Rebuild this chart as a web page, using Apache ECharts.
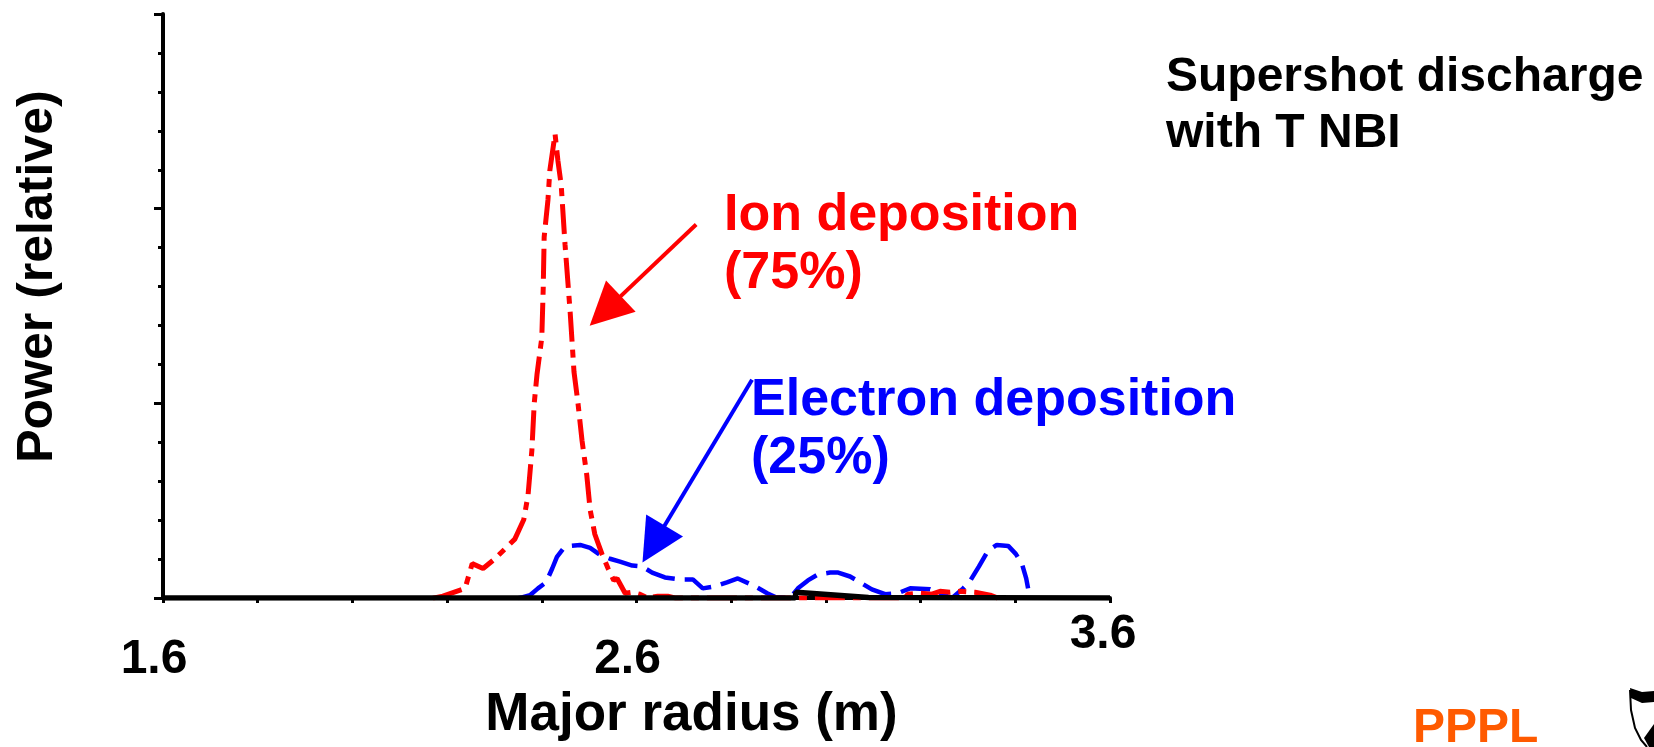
<!DOCTYPE html>
<html>
<head>
<meta charset="utf-8">
<script src="https://cdn.jsdelivr.net/npm/echarts@6/dist/echarts.min.js"></script>
<style>
html,body{margin:0;padding:0;background:#fff;}
#chart{width:1654px;height:747px;}
</style>
</head>
<body>
<div id="chart"></div>
<script>
// ---- data ----
const xTickLabels = ['1.6', '2.6', '3.6'];

const ionX = [2.17, 2.191, 2.238, 2.253, 2.276, 2.301, 2.343, 2.362, 2.371, 2.379, 2.384, 2.390, 2.400, 2.403, 2.405, 2.413, 2.417, 2.428,
  2.434, 2.441, 2.449, 2.460, 2.468, 2.476, 2.485, 2.495, 2.502, 2.512, 2.527, 2.540, 2.552, 2.559, 2.576, 2.590, 2.607, 2.624, 2.645, 2.666, 2.683,
  3.167, 3.173, 3.199, 3.224, 3.241, 3.262, 3.283, 3.315, 3.347, 3.363];
const ionY = [0, 0.01, 0.05, 0.177, 0.152, 0.202, 0.303, 0.404, 0.530, 0.758, 1.0, 1.152, 1.338, 1.591, 1.854, 2.045, 2.197, 2.384,
  2.247, 2.121, 1.818, 1.465, 1.162, 1.010, 0.808, 0.631, 0.455, 0.328, 0.227, 0.152, 0.091, 0.101, 0.025, 0.03, 0.02, 0, 0.01, 0.01, 0,
  0, 0.02, 0.025, 0.02, 0.035, 0.03, 0.035, 0.03, 0.015, 0];

const elecX = [2.35, 2.360, 2.375, 2.392, 2.409, 2.422, 2.432, 2.445, 2.460, 2.481, 2.502, 2.523, 2.544, 2.565, 2.591, 2.612, 2.633, 2.660,
  2.692, 2.719, 2.740, 2.766, 2.791, 2.814, 2.850, 2.876, 2.893, 2.924, 2.941, 2.962, 2.983, 3.009, 3.026, 3.051, 3.072, 3.097,
  3.125, 3.152, 3.178, 3.220, 3.245, 3.266, 3.290, 3.304, 3.323, 3.342, 3.361, 3.385, 3.401, 3.414, 3.423, 3.427];
const elecY = [0, 0.005, 0.015, 0.05, 0.081, 0.152, 0.212, 0.253, 0.268, 0.273, 0.258, 0.222, 0.202, 0.187, 0.167, 0.162, 0.131, 0.106,
  0.096, 0.096, 0.05, 0.061, 0.081, 0.101, 0.061, 0.025, 0.005, 0, 0.05, 0.091, 0.121, 0.131, 0.131, 0.111, 0.081, 0.045,
  0.02, 0.025, 0.05, 0.045, 0.02, 0, 0.05, 0.086, 0.162, 0.242, 0.273, 0.268, 0.227, 0.177, 0.101, 0.05];

const baseX = [1.6, 2.935, 2.937, 3.09, 3.6];
const baseY = [0, 0, 0.03, 0.003, 0];

// annotation arrows: [tailX, tailY, headX, headY] in data units
const ionArrow = [2.726, 1.919, 2.534, 1.475];
const elecArrow = [2.844, 1.121, 2.636, 0.278];

const zip = (xs, ys) => xs.map((x, i) => [x, ys[i]]);

const FONT = '"Liberation Sans", Arial, sans-serif';

const chart = echarts.init(document.getElementById('chart'), null, {renderer: 'canvas'});
chart.setOption({
  animation: false,
  backgroundColor: '#ffffff',
  grid: {left: 163, right: 544, top: 14, bottom: 137, containLabel: false},
  xAxis: {
    type: 'value', min: 1.6, max: 3.6, interval: 0.2,
    name: 'Major radius (m)', nameLocation: 'middle', nameGap: 89,
    nameTextStyle: {fontFamily: FONT, fontWeight: 'bold', fontSize: 53, color: '#000', padding: [0, 0, 0, 110]},
    axisLine: {show: true, onZero: false, lineStyle: {color: '#000', width: 4}},
    axisTick: {show: true, length: 5, lineStyle: {color: '#000', width: 3}},
    splitLine: {show: false},
    axisLabel: {
      show: true, margin: 13,
      formatter: function (v) {
        const s = (Math.round(v * 10) / 10).toFixed(1);
        if (xTickLabels.indexOf(s) < 0) return '';
        return s === '3.6' ? '{hi|' + s + '}' : '{lo|' + s + '}';
      },
      rich: {
        hi: {fontFamily: FONT, fontWeight: 'bold', fontSize: 48, color: '#000', padding: [0, 14, 0, 0]},
        lo: {fontFamily: FONT, fontWeight: 'bold', fontSize: 48, color: '#000', padding: [25, 18, 0, 0]}
      }
    }
  },
  yAxis: {
    type: 'value', min: 0, max: 3, interval: 1,
    name: 'Power (relative)', nameLocation: 'middle', nameRotate: 90, nameGap: 100,
    nameTextStyle: {fontFamily: FONT, fontWeight: 'bold', fontSize: 50, color: '#000', padding: [0, 0, 0, 59]},
    axisLine: {show: true, lineStyle: {color: '#000', width: 4}},
    axisTick: {show: true, length: 9, lineStyle: {color: '#000', width: 3}},
    minorTick: {show: true, splitNumber: 5, length: 5, lineStyle: {color: '#000', width: 3}},
    axisLabel: {show: false},
    splitLine: {show: false},
    minorSplitLine: {show: false}
  },
  series: [
    {
      name: 'Electron deposition', type: 'line', data: zip(elecX, elecY), showSymbol: false, symbol: 'none',
      lineStyle: {color: '#0000ff', width: 4.5, type: [30, 10]},
      z: 2,
      markLine: {
        silent: true, symbol: ['none', 'triangle'], symbolSize: 43, animation: false,
        label: {show: false},
        lineStyle: {color: '#0000ff', width: 4, type: 'solid'},
        data: [[{coord: [elecArrow[0], elecArrow[1]]}, {coord: [elecArrow[2], elecArrow[3]]}]]
      }
    },
    {
      name: 'Ion deposition', type: 'line', data: zip(ionX, ionY), showSymbol: false, symbol: 'none',
      lineStyle: {color: '#ff0000', width: 5, type: [30, 8, 8, 8]},
      z: 3,
      markLine: {
        silent: true, symbol: ['none', 'triangle'], symbolSize: 43, animation: false,
        label: {show: false},
        lineStyle: {color: '#ff0000', width: 4, type: 'solid'},
        data: [[{coord: [ionArrow[0], ionArrow[1]]}, {coord: [ionArrow[2], ionArrow[3]]}]]
      }
    },
    {
      name: 'Baseline', type: 'line', data: zip(baseX, baseY), showSymbol: false, symbol: 'none',
      lineStyle: {color: '#000000', width: 5.5, type: 'solid'},
      z: 4
    }
  ],
  graphic: [
    {type: 'text', left: 724, top: 187, style: {text: 'Ion deposition\n(75%)', font: 'bold 52px ' + FONT, fill: '#ff0000', lineHeight: 58}},
    {type: 'text', left: 751, top: 372, style: {text: 'Electron deposition\n(25%)', font: 'bold 52px ' + FONT, fill: '#0000ff', lineHeight: 58}},
    {type: 'text', left: 1166, top: 50, style: {text: 'Supershot discharge\nwith T NBI', font: 'bold 48px ' + FONT, fill: '#000000', lineHeight: 56}},
    {type: 'text', left: 1413, top: 705, style: {text: 'PPPL', font: 'bold 48px ' + FONT, fill: '#ff5a00', textShadowColor: '#000', textShadowOffsetX: 3, textShadowOffsetY: 2, textShadowBlur: 0, lineHeight: 48}},
    {type: 'polygon', shape: {points: [[1630, 688], [1642, 692], [1654, 691], [1654, 702], [1642, 703], [1631, 698]]}, style: {fill: '#000'}},
    {type: 'polyline', shape: {points: [[1630, 690], [1631, 710], [1635, 728], [1641, 740], [1647, 747]]}, style: {fill: null, stroke: '#000', lineWidth: 2}},
    {type: 'polygon', shape: {points: [[1644, 738], [1654, 724], [1654, 747], [1649, 747]]}, style: {fill: '#000'}}
  ]
});
</script>
</body>
</html>
